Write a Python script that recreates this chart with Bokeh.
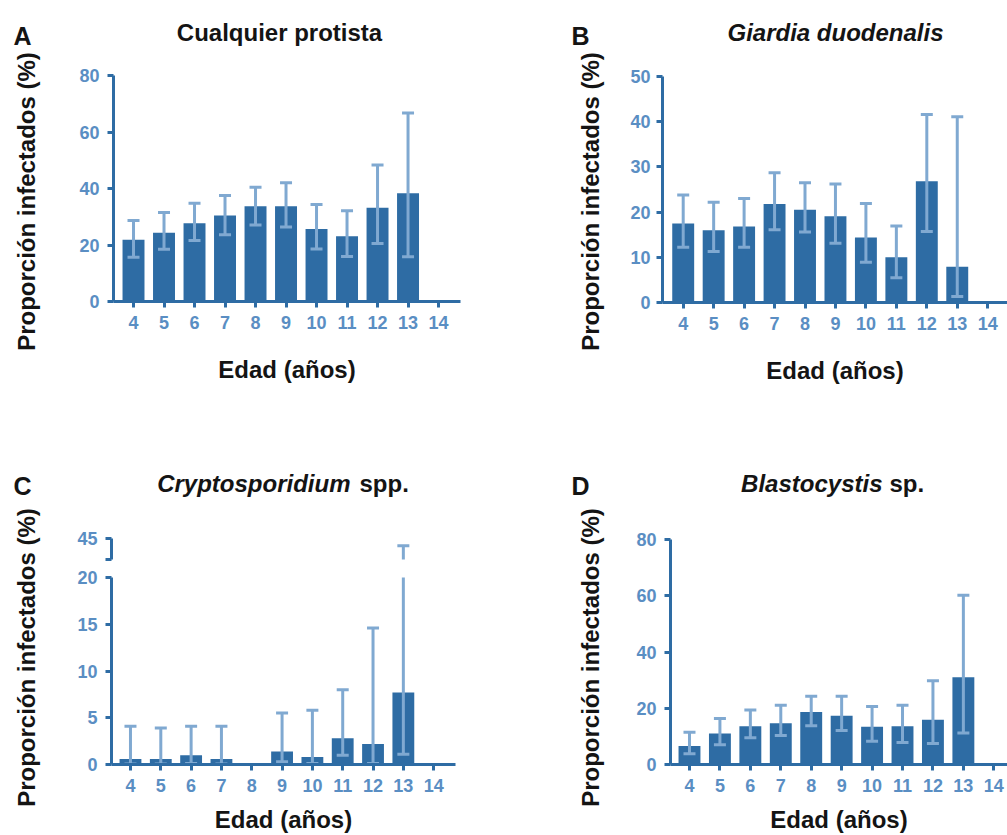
import numpy as np
from bokeh.plotting import figure
from bokeh.layouts import row, column
from bokeh.models import FixedTicker, Range1d, Label, ColumnDataSource
from bokeh.embed import file_html
from bokeh.resources import INLINE

NaN = float("nan")

# ---------------- data ----------------
ages = [4, 5, 6, 7, 8, 9, 10, 11, 12, 13, 14]

any_val = [21.9, 24.3, 27.7, 30.4, 33.7, 33.7, 25.7, 23.1, 33.2, 38.3, 0]
any_lo = [15.7, 18.5, 21.6, 23.6, 27.1, 26.4, 18.6, 15.9, 20.5, 15.8, NaN]
any_hi = [28.7, 31.5, 34.8, 37.5, 40.4, 42.0, 34.3, 32.1, 48.3, 66.7, NaN]

giardia_val = [17.5, 16.0, 16.8, 21.8, 20.5, 19.1, 14.4, 10.0, 26.8, 7.9, 0]
giardia_lo = [12.2, 11.3, 12.2, 16.1, 15.6, 13.1, 8.9, 5.5, 15.7, 1.3, NaN]
giardia_hi = [23.8, 22.2, 23.0, 28.7, 26.5, 26.2, 21.9, 16.9, 41.6, 41.1, NaN]

crypto_val = [0.6, 0.6, 1.0, 0.6, 0, 1.4, 0.8, 2.8, 2.2, 7.7, 0]
crypto_lo = [0.05, 0.05, 0.1, 0.05, NaN, 0.3, 0.1, 1.0, 0.1, 1.1, NaN]
crypto_hi = [4.1, 3.9, 4.1, 4.1, NaN, 5.5, 5.8, 8.0, 14.6, 43.3, NaN]

blasto_val = [6.6, 11.0, 13.6, 14.7, 18.7, 17.3, 13.4, 13.6, 15.9, 31.0, 0]
blasto_lo = [3.8, 7.0, 9.5, 10.3, 13.8, 12.1, 8.3, 7.8, 7.5, 11.2, NaN]
blasto_hi = [11.5, 16.4, 19.4, 21.1, 24.3, 24.3, 20.6, 21.1, 29.8, 60.2, NaN]

yticks_a = [0, 20, 40, 60, 80]
yticks_b = [0, 10, 20, 30, 40, 50]
yticks_c = [0, 5, 10, 15, 20]
yticks_c_top = [40, 45]
yticks_d = [0, 20, 40, 60, 80]

x_label = "Edad (años)"
y_label = "Proporción infectados (%)"
title_a = "Cualquier protista"
title_b = "Giardia duodenalis"
title_c_it, title_c_rm = "Cryptosporidium", "spp."
title_d_it, title_d_rm = "Blastocystis", "sp."

# ---------------- style ----------------
BAR = "#2E6CA4"
ERR = "#80A9D1"
AX = "#2E6CA4"
TICK = "#5A8EC3"
TXT = "#141414"
FONT = "Liberation Sans"


def blank_fig(w, h):
    p = figure(width=w, height=h, x_range=Range1d(0, w), y_range=Range1d(0, h),
               output_backend="svg", toolbar_location=None, title=None,
               x_axis_location=None, y_axis_location=None,
               min_border_left=0, min_border_right=0,
               min_border_top=0, min_border_bottom=0, frame_align=False)
    p.grid.visible = False
    p.outline_line_color = None
    p.background_fill_color = "white"
    p.border_fill_color = "white"
    return p


def make_fig(w, h, bl, br, bt, bb, xr, yr, yticks):
    p = figure(width=w, height=h, x_range=Range1d(*xr), y_range=Range1d(*yr),
               output_backend="svg", toolbar_location=None, title=None,
               min_border_left=bl, min_border_right=br,
               min_border_top=bt, min_border_bottom=bb, frame_align=False)
    p.grid.visible = False
    p.outline_line_color = None
    p.background_fill_color = "white"
    p.border_fill_color = "white"
    for ax in p.axis:
        ax.axis_line_color = AX
        ax.axis_line_width = 3
        ax.major_tick_line_color = AX
        ax.major_tick_line_width = 3
        ax.major_tick_out = 6
        ax.major_tick_in = 0
        ax.minor_tick_line_color = None
        ax.major_label_text_color = TICK
        ax.major_label_text_font = FONT
        ax.major_label_text_font_style = "bold"
        ax.major_label_text_font_size = "18px"
        ax.axis_label_text_font = FONT
        ax.axis_label_text_font_size = "24px"
        ax.axis_label_text_font_style = "bold"
        ax.axis_label_text_color = TXT
    p.xaxis.ticker = FixedTicker(ticks=ages)
    p.yaxis.ticker = FixedTicker(ticks=yticks)
    p.yaxis.major_label_standoff = 8
    p.xaxis.major_label_standoff = 8
    return p


def source(vals, lo, hi):
    return ColumnDataSource(dict(x=np.array(ages, dtype=float),
                                 top=np.array(vals, dtype=float),
                                 lo=np.array(lo, dtype=float),
                                 hi=np.array(hi, dtype=float)))


def draw_bars(p, src):
    p.vbar(x="x", top="top", bottom=0, width=0.72, source=src,
           fill_color=BAR, line_color=None)


def draw_err(p, src):
    p.segment(x0="x", y0="lo", x1="x", y1="hi", source=src,
              line_color=ERR, line_width=3)
    p.scatter(x="x", y="hi", marker="dash", size=12, source=src,
              line_color=ERR, line_width=3)
    p.scatter(x="x", y="lo", marker="dash", size=12, source=src,
              line_color=ERR, line_width=3)


def add_text(p, text, x, y, size, style, align="left", angle=0.0, baseline="alphabetic"):
    p.add_layout(Label(x=x, y=y, x_units="screen", y_units="screen", text=text,
                       text_font=FONT, text_font_size=size, text_font_style=style,
                       text_color=TXT, text_align=align, text_baseline=baseline,
                       angle=angle))


def set_xlabel(p, standoff):
    p.xaxis.axis_label = x_label
    p.xaxis.axis_label_standoff = standoff


HEAD = 60      # title strip height
ROW1 = 450     # height of top row
ROW2 = 385     # height of bottom row

# ---- Panel A ----
LA = 45
yA = blank_fig(LA, ROW1)   # panel letter + vertical axis title
add_text(yA, "A", 13, ROW1 - 35, "25px", "bold")
add_text(yA, y_label, 26, ROW1 - 201, "24px", "bold", "center", np.pi / 2, "middle")
hA = blank_fig(549 - LA, HEAD)
add_text(hA, title_a, 279 - LA, HEAD - 32, "24px", "bold", "center")
pA = make_fig(549 - LA, ROW1 - HEAD, 113 - LA, 89, 75 - HEAD, 149,
              (3.344, 14.72), (0, 80), yticks_a)
sA = source(any_val, any_lo, any_hi)
draw_bars(pA, sA)
draw_err(pA, sA)
set_xlabel(pA, 24)

# ---- Panel B ----
LB = 60
yB = blank_fig(LB, ROW1)
add_text(yB, "B", 22, ROW1 - 35, "25px", "bold")
add_text(yB, y_label, 41, ROW1 - 201, "24px", "bold", "center", np.pi / 2, "middle")
hB = blank_fig(458 - LB, HEAD)
add_text(hB, title_b, 286 - LB, HEAD - 32, "24px", "bold italic", "center")
pB = make_fig(458 - LB, ROW1 - HEAD, 113 - LB, 0, 76 - HEAD, 148,
              (3.32, 14.65), (0, 50), yticks_b)
pB.yaxis.major_label_standoff = 6
sB = source(giardia_val, giardia_lo, giardia_hi)
draw_bars(pB, sB)
draw_err(pB, sB)
set_xlabel(pB, 24)

# ---- Panel C (broken y axis) ----
LC = 45
yC = blank_fig(LC, ROW2)
add_text(yC, "C", 13, 835 - 485, "25px", "bold")
add_text(yC, y_label, 26, 835 - 657, "24px", "bold", "center", np.pi / 2, "middle")
hC = blank_fig(549 - LC, HEAD)
add_text(hC, title_c_it, 350 - LC, ROW1 + HEAD - 483, "24px", "bold italic", "right")
add_text(hC, title_c_rm, 359 - LC, ROW1 + HEAD - 483, "24px", "bold")

sC = source(crypto_val, crypto_lo, crypto_hi)
top_h = 568 - ROW1 - HEAD
pCt = make_fig(549 - LC, top_h, 111 - LC, 94, 538 - ROW1 - HEAD, 9,
               (3.374, 14.72), (40, 45), yticks_c_top)
pCt.xaxis.visible = False
pCt.yaxis.major_label_overrides = {40: ""}
draw_err(pCt, sC)

pCb = make_fig(549 - LC, 835 - 568, 111 - LC, 94, 9, 71, (3.374, 14.72), (0, 20), yticks_c)
draw_bars(pCb, sC)
draw_err(pCb, sC)
set_xlabel(pCb, 11)

# ---- Panel D ----
LD = 60
yD = blank_fig(LD, ROW2)
add_text(yD, "D", 22, 835 - 485, "25px", "bold")
add_text(yD, y_label, 41, 835 - 657, "24px", "bold", "center", np.pi / 2, "middle")
hD = blank_fig(458 - LD, HEAD)
add_text(hD, title_d_it, 333 - LD, ROW1 + HEAD - 483, "24px", "bold italic", "right")
add_text(hD, title_d_rm, 340 - LD, ROW1 + HEAD - 483, "24px", "bold")
pD = make_fig(458 - LD, ROW2 - HEAD, 121 - LD, 0, 539 - ROW1 - HEAD, 71,
              (3.376, 14.45), (0, 80), yticks_d)
sD = source(blasto_val, blasto_lo, blasto_hi)
draw_bars(pD, sD)
draw_err(pD, sD)
set_xlabel(pD, 11)

layout = column(
    row(yA, column(hA, pA), yB, column(hB, pB)),
    row(yC, column(hC, pCt, pCb), yD, column(hD, pD)),
)

open("out.html", "w").write(file_html(layout, INLINE))
